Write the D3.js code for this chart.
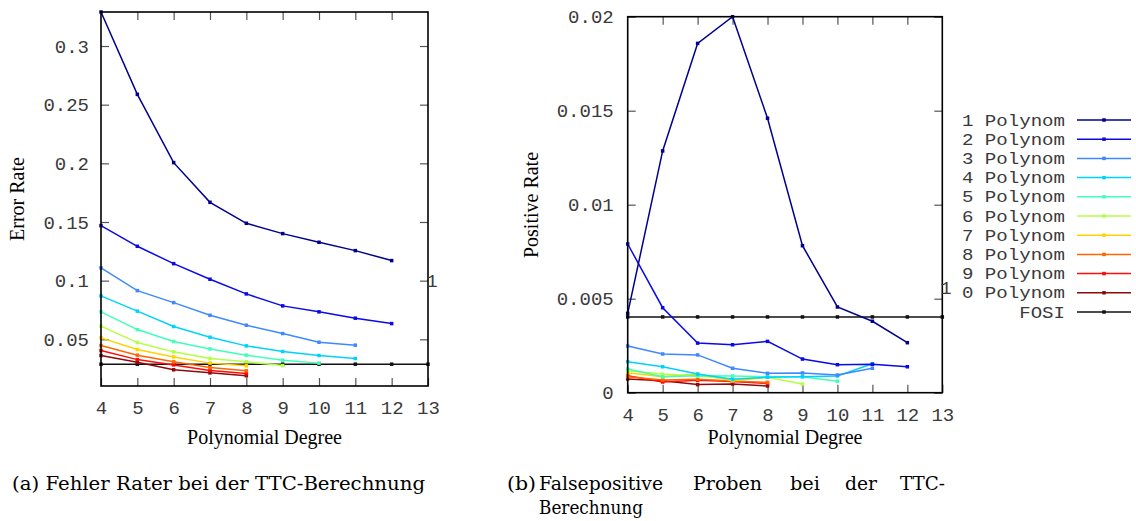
<!DOCTYPE html>
<html>
<head>
<meta charset="utf-8">
<script src="https://cdn.jsdelivr.net/npm/d3@7"></script>
<style>
  html, body { margin: 0; padding: 0; background: #fff; }
  svg { display: block; }
</style>
</head>
<body>
<svg width="1136" height="521"></svg>
<script>
// x values (polynomial degree) and tick labels
const DEGREES = [4, 5, 6, 7, 8, 9, 10, 11, 12, 13];
const ERROR_TICKS = [0.05, 0.1, 0.15, 0.2, 0.25, 0.3];
const POSITIVE_TICKS = [0, 0.005, 0.01, 0.015, 0.02];

const SERIES_NAMES = ['1 Polynom', '2 Polynom', '3 Polynom', '4 Polynom', '5 Polynom',
    '6 Polynom', '7 Polynom', '8 Polynom', '9 Polynom', '0 Polynom', 'FOSI'];
const SERIES_COLOURS = ['#00008f', '#0a0ae6', '#3f88ff', '#00d2ff', '#3fffb9',
    '#b2ff44', '#ffd200', '#ff6600', '#ff0a0a', '#8c0a0a', '#111111'];

// (a) error rate, one array per series, starting at degree 4
const ERROR_RATE = [
    [0.329, 0.2588, 0.2006, 0.1668, 0.1489, 0.1401, 0.1327, 0.1256, 0.1171],
    [0.1469, 0.1293, 0.1145, 0.1012, 0.0887, 0.0785, 0.0734, 0.068, 0.0634],
    [0.1109, 0.0915, 0.0813, 0.0705, 0.062, 0.0549, 0.0475, 0.045],
    [0.087, 0.074, 0.0609, 0.0518, 0.0444, 0.0396, 0.0362, 0.0336],
    [0.0734, 0.0583, 0.0481, 0.0418, 0.0365, 0.0322, 0.0297],
    [0.0612, 0.0472, 0.0393, 0.0336, 0.0308, 0.0276],
    [0.0512, 0.0413, 0.035, 0.0297, 0.0274],
    [0.0447, 0.0365, 0.0308, 0.0259, 0.0231],
    [0.0404, 0.0327, 0.0282, 0.0234, 0.0208],
    [0.0362, 0.0305, 0.024, 0.0214, 0.0189],
    [0.0288, 0.0288, 0.0288, 0.0288, 0.0288, 0.0288, 0.0288, 0.0288, 0.0288, 0.0288]
];

// (b) false positive rate
const POSITIVE_RATE = [
    [0.00422, 0.01286, 0.01858, 0.02, 0.0146, 0.00782, 0.00456, 0.0038, 0.00266],
    [0.00791, 0.00452, 0.00264, 0.00255, 0.00273, 0.00179, 0.00149, 0.00151, 0.00138],
    [0.00248, 0.00206, 0.00201, 0.0013, 0.00103, 0.00105, 0.00094, 0.0013],
    [0.00165, 0.00138, 0.00099, 0.00071, 0.00082, 0.00085, 0.00089, 0.00154],
    [0.00126, 0.00085, 0.0009, 0.00089, 0.00085, 0.00085, 0.00061],
    [0.00117, 0.00099, 0.00089, 0.00071, 0.00082, 0.00046],
    [0.00106, 0.00085, 0.00099, 0.00064, 0.00082],
    [0.00085, 0.00068, 0.00071, 0.00062, 0.00055],
    [0.0009, 0.00057, 0.00066, 0.00059, 0.0005],
    [0.00073, 0.00064, 0.00043, 0.00046, 0.00036],
    [0.00403, 0.00403, 0.00403, 0.00403, 0.00403, 0.00403, 0.00403, 0.00403, 0.00403, 0.00403]
];

const MONO = '"Liberation Mono", "DejaVu Sans Mono", monospace';
const SERIF = '"Liberation Serif", "Times New Roman", serif';
const CAPTION_FONT = '"DejaVu Serif", serif';

const svg = d3.select('svg');
const fmt = d3.format('~g');

const drawPanel = (cfg) => {
    const X_SCALE = d3.scaleLinear().domain([4, 13]).range([cfg.left, cfg.right]);
    const Y_SCALE = d3.scaleLinear().domain(cfg.yDomain).range([cfg.bottom, cfg.top]);
    const g = svg.append('g');

    // ticks (inside the frame, mirrored)
    const styleAxis = sel => {
        sel.select('.domain').remove();
        sel.selectAll('.tick line').attr('stroke', '#555').attr('stroke-width', 1.2);
        sel.selectAll('text')
            .attr('fill', '#3a3a3a')
            .style('font-family', MONO)
            .style('font-size', '19px');
    };

    g.append('g')
        .attr('transform', `translate(0,${cfg.bottom})`)
        .call(d3.axisBottom(X_SCALE).tickValues(DEGREES).tickSizeInner(-8).tickSizeOuter(0).tickPadding(15))
        .call(styleAxis);
    g.append('g')
        .attr('transform', `translate(0,${cfg.top})`)
        .call(d3.axisTop(X_SCALE).tickValues(DEGREES.slice(1, -1)).tickSizeInner(-8).tickSizeOuter(0).tickFormat(''))
        .call(styleAxis);
    g.append('g')
        .attr('transform', `translate(${cfg.left},0)`)
        .call(d3.axisLeft(Y_SCALE).tickValues(cfg.ticks).tickSizeInner(-8).tickSizeOuter(0).tickPadding(cfg.tickPad).tickFormat(fmt))
        .call(styleAxis);
    g.append('g')
        .attr('transform', `translate(${cfg.right},0)`)
        .call(d3.axisRight(Y_SCALE).tickValues(cfg.ticks).tickSizeInner(-8).tickSizeOuter(0).tickFormat(''))
        .call(styleAxis);

    // series, FOSI first so the coloured lines sit on top
    const order = d3.range(cfg.data.length).reverse();
    const line = d3.line().x((d, i) => X_SCALE(DEGREES[i])).y(d => Y_SCALE(d));
    order.forEach(s => {
        const values = cfg.data[s];
        g.append('path')
            .datum(values)
            .attr('d', line)
            .attr('fill', 'none')
            .attr('stroke', SERIES_COLOURS[s])
            .attr('stroke-width', 1.5);
        g.selectAll(null)
            .data(values)
            .join('rect')
            .attr('x', (d, i) => X_SCALE(DEGREES[i]) - 1.75)
            .attr('y', d => Y_SCALE(d) - 1.75)
            .attr('width', 3.5)
            .attr('height', 3.5)
            .attr('fill', SERIES_COLOURS[s]);
    });

    // frame
    g.append('rect')
        .attr('x', cfg.left)
        .attr('y', cfg.top)
        .attr('width', cfg.right - cfg.left)
        .attr('height', cfg.bottom - cfg.top)
        .attr('fill', 'none')
        .attr('stroke', '#000')
        .attr('stroke-width', 1.6);

    // axis titles
    g.append('text')
        .text('Polynomial Degree')
        .attr('x', (cfg.left + cfg.right) / 2)
        .attr('y', 444)
        .style('text-anchor', 'middle')
        .style('font-family', SERIF)
        .style('font-size', '20px');
    g.append('text')
        .text(cfg.yLabel)
        .attr('transform', `translate(${cfg.yLabelX},${cfg.yLabelY}) rotate(-90)`)
        .style('text-anchor', 'middle')
        .style('font-family', SERIF)
        .style('font-size', '20px');

    // stray "1" beside the right border
    g.append('text')
        .text('1')
        .attr('x', cfg.strayX)
        .attr('y', cfg.strayY)
        .style('text-anchor', 'middle')
        .attr('fill', '#3a3a3a')
        .style('font-family', MONO)
        .style('font-size', '19px');
};

drawPanel({
    left: 101, right: 428, top: 12, bottom: 386,
    yDomain: [0.0102, 0.329], ticks: ERROR_TICKS, tickPad: 12,
    data: ERROR_RATE, yLabel: 'Error Rate', yLabelX: 24, yLabelY: 199,
    strayX: 432, strayY: 287
});

drawPanel({
    left: 627.7, right: 942.3, top: 16.7, bottom: 392.7,
    yDomain: [0, 0.02], ticks: POSITIVE_TICKS, tickPad: 14,
    data: POSITIVE_RATE, yLabel: 'Positive Rate', yLabelX: 538, yLabelY: 205,
    strayX: 946, strayY: 294
});

// legend
const legend = svg.append('g');
SERIES_NAMES.forEach((name, i) => {
    const y = 120 + i * 19.2;
    legend.append('text')
        .text(name)
        .attr('x', 1065)
        .attr('y', y + 5.5)
        .attr('fill', '#3a3a3a')
        .attr('textLength', name.length * 11.45)
        .attr('lengthAdjust', 'spacingAndGlyphs')
        .style('text-anchor', 'end')
        .style('font-family', MONO)
        .style('font-size', '16.5px');
    legend.append('line')
        .attr('x1', 1077).attr('x2', 1131)
        .attr('y1', y).attr('y2', y)
        .attr('stroke', SERIES_COLOURS[i])
        .attr('stroke-width', 1.5);
    legend.append('rect')
        .attr('x', 1104 - 1.75).attr('y', y - 1.75)
        .attr('width', 3.5).attr('height', 3.5)
        .attr('fill', SERIES_COLOURS[i]);
});

// captions
svg.append('text')
    .text('(a) Fehler Rater bei der TTC-Berechnung')
    .attr('x', 12)
    .attr('y', 490)
    .attr('textLength', 413)
    .attr('lengthAdjust', 'spacingAndGlyphs')
    .style('font-family', CAPTION_FONT)
    .style('font-size', '18px');

const CAPTION_B_WORDS = ['(b)', 'Falsepositive', 'Proben', 'bei', 'der', 'TTC-'];
const CAPTION_B_X = [507, 539, 693, 790, 845, 900];
const CAPTION_B_W = [29, 124, 69, 30, 32, 45];
CAPTION_B_WORDS.forEach((w, i) => {
    svg.append('text')
        .text(w)
        .attr('x', CAPTION_B_X[i])
        .attr('y', 490)
        .attr('textLength', CAPTION_B_W[i])
        .attr('lengthAdjust', 'spacingAndGlyphs')
        .style('font-family', CAPTION_FONT)
        .style('font-size', '18px');
});
svg.append('text')
    .text('Berechnung')
    .attr('x', 539)
    .attr('y', 514)
    .attr('textLength', 104)
    .attr('lengthAdjust', 'spacingAndGlyphs')
    .style('font-family', CAPTION_FONT)
    .style('font-size', '18px');
</script>
</body>
</html>
